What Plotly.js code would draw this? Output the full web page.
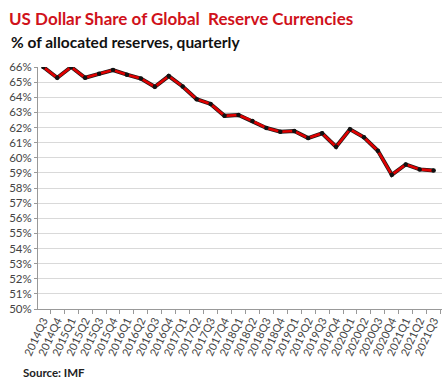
<!DOCTYPE html>
<html>
<head>
<meta charset="utf-8">
<script src="https://cdn.plot.ly/plotly-3.0.1.min.js"></script>
<style>html,body{margin:0;padding:0;background:#fff;}#chart{width:446px;height:385px;}</style>
</head>
<body>
<div id="chart"></div>
<script>
var quarters = ["2014Q3","2014Q4","2015Q1","2015Q2","2015Q3","2015Q4","2016Q1","2016Q2","2016Q3","2016Q4",
  "2017Q1","2017Q2","2017Q3","2017Q4","2018Q1","2018Q2","2018Q3","2018Q4","2019Q1","2019Q2",
  "2019Q3","2019Q4","2020Q1","2020Q2","2020Q3","2020Q4","2021Q1","2021Q2","2021Q3"];
var usdShare = [66.0,65.29,66.0,65.29,65.55,65.8,65.49,65.24,64.69,65.4,
  64.71,63.87,63.56,62.77,62.83,62.43,61.97,61.72,61.77,61.30,
  61.62,60.73,61.88,61.35,60.46,58.87,59.56,59.23,59.15];
var yTickVals = [50,51,52,53,54,55,56,57,58,59,60,61,62,63,64,65,66];
var yTickText = yTickVals.map(function(v){return v + "%";});

var traces = [
  {x: quarters, y: usdShare, type: "scatter", mode: "lines",
   line: {color: "#1a1a1a", width: 4}, hoverinfo: "skip", showlegend: false},
  {x: quarters, y: usdShare, type: "scatter", mode: "lines+markers",
   line: {color: "#e00000", width: 2.6},
   marker: {color: "#111", size: 4.5}, showlegend: false}
];

var layout = {
  width: 446, height: 385,
  margin: {l: 38, r: 4, t: 67, b: 76},
  paper_bgcolor: "#fff", plot_bgcolor: "#fff",
  font: {family: "Lato, 'Open Sans', sans-serif", color: "#333"},
  title: {
    text: "US Dollar Share of Global  Reserve Currencies",
    font: {family: "Lato, sans-serif", size: 17, color: "#d0121b", weight: "bold"},
    x: 9/446, xanchor: "left", xref: "container",
    y: 1 - 19/385, yanchor: "middle", yref: "container"
  },
  xaxis: {
    type: "category",
    range: [-0.38, 28.6],
    tickmode: "array", tickvals: quarters, ticktext: quarters,
    tickangle: -65,
    tickfont: {size: 11, color: "#444"},
    showgrid: false,
    showline: true, linecolor: "#999", linewidth: 1,
    ticks: "outside", ticklen: 4, tickcolor: "#999",
    tickson: "boundaries",
    zeroline: false
  },
  yaxis: {
    range: [50, 66],
    tickvals: yTickVals, ticktext: yTickText,
    tickfont: {size: 11.5, color: "#444"},
    showgrid: true, gridcolor: "#d9d9d9", gridwidth: 1,
    showline: true, linecolor: "#999", linewidth: 1,
    ticks: "outside", ticklen: 3, tickcolor: "#999",
    zeroline: false
  },
  annotations: [
    {text: "<b>% of allocated reserves, quarterly</b>", xref: "paper", yref: "paper",
     x: -29/404, y: (309-42)/242, xanchor: "left", yanchor: "middle", showarrow: false,
     font: {family: "Lato, sans-serif", size: 15.5, color: "#111"}},
    {text: "<b>Source: IMF</b>", xref: "paper", yref: "paper",
     x: -17/404, y: (309-372)/242, xanchor: "left", yanchor: "middle", showarrow: false,
     font: {family: "Lato, sans-serif", size: 11.5, color: "#222"}}
  ]
};

Plotly.newPlot("chart", traces, layout, {displayModeBar: false, staticPlot: true});
</script>
</body>
</html>
